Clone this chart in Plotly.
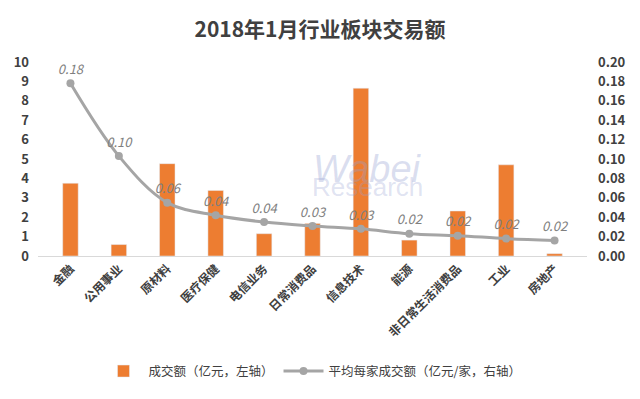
import plotly.graph_objects as go

categories = ["金融", "公用事业", "原材料", "医疗保健", "电信业务", "日常消费品",
              "信息技术", "能源", "非日常生活消费品", "工业", "房地产"]
volume = [3.75, 0.59, 4.76, 3.38, 1.15, 1.68, 8.65, 0.82, 2.32, 4.70, 0.12]
avg_volume = [0.178, 0.103, 0.055, 0.042, 0.035, 0.031, 0.028, 0.023, 0.021, 0.018, 0.016]
avg_labels = ["0.18", "0.10", "0.06", "0.04", "0.04", "0.03", "0.03", "0.02", "0.02", "0.02", "0.02"]
left_ticks = list(range(0, 11))
right_ticks = [i * 0.02 for i in range(11)]

FONT = "Noto Sans CJK SC"
DARK = "#404040"

fig = go.Figure()
fig.add_trace(go.Bar(
    x=categories, y=volume, name="成交额（亿元，左轴）",
    marker_color="#ED7D31", width=0.32, yaxis="y",
))
fig.add_trace(go.Scatter(
    x=categories, y=avg_volume, name="平均每家成交额（亿元/家，右轴）",
    mode="lines+markers+text", yaxis="y2",
    line=dict(color="#A5A5A5", width=3, shape="spline", smoothing=1.0),
    marker=dict(color="#A5A5A5", size=8),
    text=avg_labels, textposition="top center",
    textfont=dict(family=FONT, size=13, color="#7F7F7F", style="italic"),
))

fig.update_layout(
    width=640, height=399,
    paper_bgcolor="white", plot_bgcolor="white",
    margin=dict(l=38, r=53, t=62, b=139),
    title=dict(text="<b>2018年1月行业板块交易额</b>", x=0.5, xanchor="center",
               y=0.925, yanchor="middle",
               font=dict(family=FONT, size=21, color=DARK)),
    font=dict(family=FONT, color=DARK),
    xaxis=dict(tickangle=-45, tickfont=dict(size=12, color=DARK, weight="bold"),
               showline=True, linecolor="#D9D9D9", linewidth=1, showgrid=False,
               ticks="", automargin=False),
    yaxis=dict(range=[0, 10], tickvals=left_ticks, showgrid=False, zeroline=False,
               tickfont=dict(size=13, color=DARK, weight="bold"), ticklabelstandoff=8,
               automargin=False),
    yaxis2=dict(range=[0, 0.2], tickvals=right_ticks, tickformat=".2f",
                overlaying="y", side="right", showgrid=False, zeroline=False,
                tickfont=dict(size=13, color=DARK, weight="bold"), ticklabelstandoff=10,
                automargin=False),
    legend=dict(orientation="h", x=0.5, xanchor="center", y=-0.595, yanchor="middle",
                font=dict(size=12.5, color=DARK), itemwidth=40),
    showlegend=True,
)

# faint watermark
fig.add_annotation(text="<i>Wabei</i>", x=0.6, y=0.45, xref="paper", yref="paper",
                   showarrow=False, font=dict(family="Liberation Sans", size=38, color="rgba(150,160,210,0.35)"))
fig.add_annotation(text="Research", x=0.6, y=0.27, xref="paper", yref="paper",
                   showarrow=False, font=dict(family="Liberation Sans", size=26, color="rgba(150,160,210,0.3)"))

fig.write_html("out.html", config={"displayModeBar": False},
               post_script="document.body.style.margin='0';document.body.style.padding='0';")
